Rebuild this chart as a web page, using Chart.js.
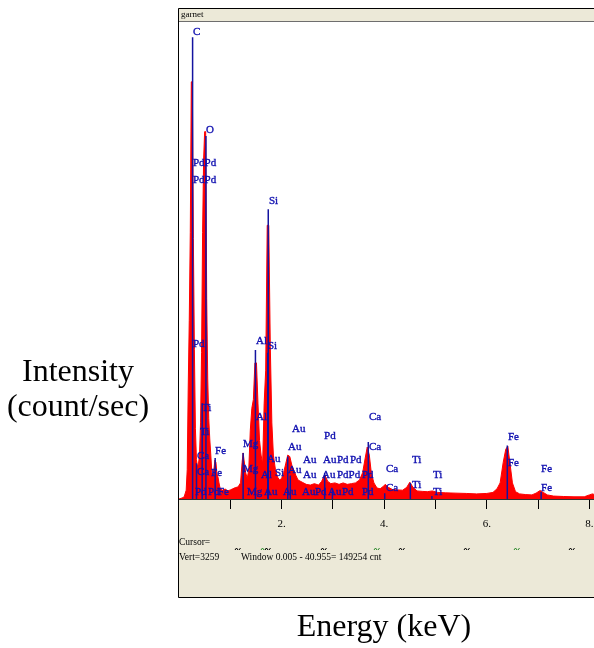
<!DOCTYPE html>
<html>
<head>
<meta charset="utf-8">
<script src="https://cdn.jsdelivr.net/npm/chart.js@4"></script>
<style>
  html, body { margin: 0; padding: 0; background: #fff; }
  canvas { display: block; }
</style>
</head>
<body>
<canvas id="edsChart" width="594" height="648"></canvas>
<script>
// EDS spectrum, garnet sample
const energy = [
  0, 0.06, 0.10, 0.14, 0.16, 0.18, 0.20, 0.22, 0.24, 0.26,
  0.28, 0.30, 0.32, 0.34, 0.36, 0.38, 0.40, 0.42, 0.44, 0.46,
  0.48, 0.50, 0.52, 0.54, 0.56, 0.58, 0.60, 0.62, 0.64, 0.66,
  0.68, 0.70, 0.72, 0.74, 0.76, 0.78, 0.80, 0.85, 0.90, 0.95,
  1.00, 1.05, 1.10, 1.15, 1.20, 1.23, 1.25, 1.27, 1.30, 1.33,
  1.36, 1.39, 1.42, 1.45, 1.48, 1.51, 1.54, 1.57, 1.60, 1.63,
  1.66, 1.69, 1.72, 1.75, 1.78, 1.81, 1.84, 1.88, 1.92, 1.96,
  2.00, 2.04, 2.08, 2.12, 2.16, 2.20, 2.24, 2.28, 2.32, 2.40,
  2.48, 2.56, 2.64, 2.72, 2.78, 2.84, 2.90, 2.96, 3.04, 3.12,
  3.20, 3.28, 3.36, 3.44, 3.52, 3.58, 3.63, 3.67, 3.71, 3.75,
  3.80, 3.86, 3.92, 3.98, 4.02, 4.08, 4.16, 4.26, 4.36, 4.44,
  4.50, 4.56, 4.64, 4.74, 4.84, 4.94, 5.04, 5.20, 5.40, 5.60,
  5.80, 6.00, 6.12, 6.20, 6.26, 6.32, 6.37, 6.41, 6.45, 6.50,
  6.56, 6.64, 6.76, 6.88, 6.96, 7.04, 7.10, 7.18, 7.30, 7.50,
  7.70, 7.90, 8.00, 8.06, 8.10
];
const counts = [
  0, 7, 14, 60, 200, 765, 1220, 1820, 2850, 2850,
  1780, 1020, 480, 270, 220, 240, 300, 520, 1000, 1820,
  2320, 2510, 2510, 1370, 820, 550, 410, 300, 180, 160,
  200, 265, 250, 170, 150, 110, 75, 60, 68, 55,
  62, 70, 78, 82, 110, 250, 315, 260, 180, 140,
  200, 470, 620, 680, 930, 930, 650, 400, 300, 240,
  650, 880, 1870, 1870, 1040, 520, 300, 200, 150, 130,
  140, 180, 240, 300, 290, 230, 195, 160, 130, 115,
  100, 95, 105, 95, 120, 165, 120, 105, 110, 100,
  110, 100, 105, 110, 130, 180, 280, 355, 300, 175,
  110, 75, 70, 85, 100, 80, 65, 62, 60, 80,
  115, 80, 55, 52, 50, 55, 45, 42, 40, 38,
  35, 38, 45, 70, 110, 250, 340, 360, 250, 110,
  50, 35, 30, 28, 40, 58, 45, 28, 20, 17,
  15, 15, 28, 35, 30
];

// element line markers (keV) and their heights
const lineKeV = [0.265, 0.341, 0.452, 0.525, 0.705, 1.25, 1.49, 1.73, 1.74, 2.12, 2.17, 2.84, 2.99, 3.69, 4.01, 4.51, 4.93, 6.40, 7.06];
const lineTop = [3155, 245, 655, 2480, 280, 315, 1018, 1000, 1980, 290, 160, 178, 60, 390, 40, 110, 20, 365, 48];

// peak labels: text, keV at the left of the text, height of the text baseline
const labelText = [
  'C', 'O', 'PdPd', 'PdPd', 'Si', 'Pd', 'Al', 'Si', 'Ti', 'Al',
  'Ti', 'Mg', 'Fe', 'Ca', 'Au', 'Pd', 'Au', 'Mg', 'Au', 'Au',
  'Au', 'Pd', 'Pd', 'Au', 'Al', 'Si', 'Ca', 'Fe', 'Au', 'Au',
  'PdPd', 'Pd', 'Ca', 'Ca', 'Ca', 'Ca', 'Ti', 'Ti', 'Ti', 'Ti',
  'Fe', 'Fe', 'Fe', 'Fe', 'Pd', 'Pd', 'Fe', 'Mg', 'Au', 'Au',
  'Au', 'Pd', 'Au', 'Pd', 'Pd'
];
const labelKeV = [
  0.273, 0.526, 0.273, 0.273, 1.754, 0.273, 1.501, 1.735, 0.448, 1.501,
  0.409, 1.248, 0.702, 0.351, 2.203, 2.827, 2.125, 1.248, 1.715, 2.417,
  2.807, 3.080, 3.333, 2.125, 1.598, 1.871, 0.351, 0.624, 2.417, 2.788,
  3.080, 3.567, 3.704, 3.704, 4.035, 4.035, 4.542, 4.542, 4.951, 4.951,
  6.413, 6.413, 7.057, 7.057, 0.312, 0.565, 0.760, 1.326, 1.657, 2.027,
  2.398, 2.651, 2.904, 3.177, 3.567
];
const labelAt = [
  3155, 2486, 2254, 2138, 2001, 1018, 1038, 1004, 581, 519,
  417, 335, 287, 253, 437, 389, 314, 164, 232, 225,
  225, 225, 225, 157, 123, 137, 143, 137, 123, 123,
  123, 123, 519, 314, 164, 34, 225, 55, 123, 7,
  382, 205, 164, 34, 7, 7, 7, 7, 7, 7,
  7, 7, 7, 7, 7
];

const tickKeV = [1, 2, 3, 4, 5, 6, 7, 8];
const tickText = ['', '2.', '', '4.', '', '6.', '', '8.'];
const fullScale = 3259;
const maxKeV = 8.09;

const spectrumPoints = energy.map((e, i) => ({ x: e, y: counts[i] }));
const markerPoints = [];
lineKeV.forEach((e, i) => {
  markerPoints.push({ x: e, y: 0 }, { x: e, y: lineTop[i] }, { x: e, y: null });
});

const serif = '"Liberation Serif", "Times New Roman", serif';

const windowPlugin = {
  id: 'windowFrame',
  beforeDraw(chart) {
    const { ctx, chartArea: a } = chart;
    const left = a.left - 1, top = a.top - 14, bottom = a.bottom + 99;
    ctx.save();
    ctx.fillStyle = '#fff';
    ctx.fillRect(0, 0, chart.width, chart.height);
    ctx.fillStyle = '#ece9d8';
    ctx.fillRect(left, top, chart.width - left, bottom - top);
    ctx.fillStyle = '#fff';
    ctx.fillRect(a.left, a.top, a.right - a.left, a.bottom - a.top);
    // title bar separator
    ctx.strokeStyle = '#6e6e6e';
    ctx.lineWidth = 1;
    ctx.beginPath();
    ctx.moveTo(left, a.top - 0.5);
    ctx.lineTo(chart.width, a.top - 0.5);
    ctx.stroke();
    // outer border
    ctx.strokeStyle = '#000';
    ctx.beginPath();
    ctx.moveTo(chart.width, top + 0.5);
    ctx.lineTo(left + 0.5, top + 0.5);
    ctx.lineTo(left + 0.5, bottom - 0.5);
    ctx.lineTo(chart.width, bottom - 0.5);
    ctx.stroke();
    ctx.fillStyle = '#000';
    ctx.font = '9px ' + serif;
    ctx.textBaseline = 'middle';
    ctx.fillText('garnet', left + 3, top + 7);
    ctx.restore();
  },
  afterDraw(chart) {
    const { ctx, chartArea: a } = chart;
    ctx.save();
    // cursor readout
    ctx.fillStyle = '#000';
    ctx.font = '9.5px ' + serif;
    ctx.textBaseline = 'middle';
    ctx.fillText('Cursor=', a.left, a.bottom + 43);
    ctx.fillText('Vert=' + fullScale, a.left, a.bottom + 58);
    ctx.fillText('Window 0.005 - 40.955= 149254 cnt', a.left + 62, a.bottom + 58);
    // little marker glyphs along the readout row
    const marks = [[235, '#000'], [261, '#2a8a2a'], [265, '#000'], [321, '#000'], [374, '#2a8a2a'], [399, '#000'], [464, '#000'], [514, '#2a8a2a'], [569, '#000']];
    ctx.lineWidth = 1;
    marks.forEach(([x, c]) => {
      ctx.strokeStyle = c;
      ctx.beginPath();
      ctx.moveTo(x, a.bottom + 51); ctx.lineTo(x + 1.5, a.bottom + 49);
      ctx.lineTo(x + 3, a.bottom + 51);
      ctx.moveTo(x + 4, a.bottom + 51); ctx.lineTo(x + 5.5, a.bottom + 49);
      ctx.stroke();
    });
    // axis captions outside the window
    ctx.font = '32px ' + serif;
    ctx.textAlign = 'center';
    ctx.fillText('Intensity', 78, 373);
    ctx.fillText('(count/sec)', 78, 408);
    ctx.fillText('Energy (keV)', 384, 628);
    ctx.restore();
  }
};

const peakLabels = {
  id: 'peakLabels',
  afterDatasetsDraw(chart) {
    const { ctx, scales: { x, y } } = chart;
    ctx.save();
    ctx.fillStyle = '#1010b0';
    ctx.strokeStyle = '#1010b0';
    ctx.lineWidth = 0.35;
    ctx.font = '11px ' + serif;
    ctx.textBaseline = 'bottom';
    labelText.forEach((t, i) => {
      const px = x.getPixelForValue(labelKeV[i]);
      const py = y.getPixelForValue(labelAt[i]);
      ctx.fillText(t, px, py);
      ctx.strokeText(t, px, py);
    });
    ctx.restore();
  }
};

new Chart(document.getElementById('edsChart'), {
  type: 'line',
  data: {
    datasets: [
      {
        label: 'Lines',
        data: markerPoints,
        borderColor: '#1414a0',
        borderWidth: 1.5,
        pointRadius: 0,
        spanGaps: false,
        fill: false,
        order: 0
      },
      {
        label: 'Spectrum',
        data: spectrumPoints,
        borderColor: '#ff0000',
        backgroundColor: '#ff0000',
        borderWidth: 1,
        pointRadius: 0,
        tension: 0,
        fill: 'origin',
        order: 1
      }
    ]
  },
  options: {
    responsive: false,
    animation: false,
    devicePixelRatio: 1,
    layout: { padding: { left: 179, right: 0, top: 22, bottom: 119 } },
    plugins: { legend: { display: false }, tooltip: { enabled: false } },
    scales: {
      x: {
        type: 'linear',
        min: 0,
        max: maxKeV,
        afterBuildTicks(scale) { scale.ticks = tickKeV.map(v => ({ value: v })); },
        afterFit(scale) {
          scale.height = 30;
          scale.paddingLeft = 0;
          scale.paddingRight = 0;
        },
        grid: { drawOnChartArea: false, drawTicks: true, tickLength: 10, color: '#000' },
        border: { display: true, color: '#333' },
        ticks: {
          autoSkip: false,
          maxRotation: 0,
          padding: 9,
          color: '#000',
          font: { family: serif, size: 11 },
          callback: (v, i) => tickText[i]
        }
      },
      y: { display: false, min: 0, max: fullScale }
    }
  },
  plugins: [windowPlugin, peakLabels]
});
</script>
</body>
</html>
